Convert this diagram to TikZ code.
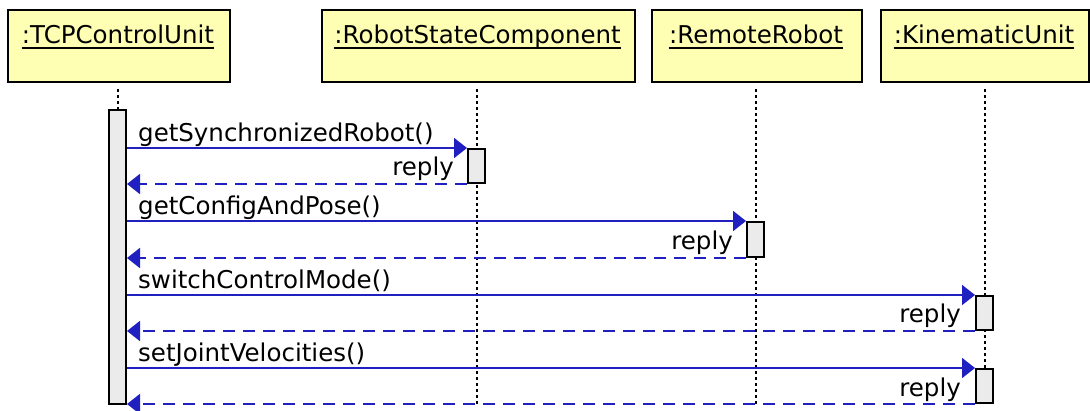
\documentclass[tikz,border=0pt]{standalone}
\usepackage{fontspec}
\setmainfont{DejaVu Sans}
\usetikzlibrary{arrows.meta}
\definecolor{objfill}{HTML}{FFFFB4}
\definecolor{barfill}{HTML}{EBEBEB}
\definecolor{msg}{HTML}{2020C0}
\begin{document}
\begin{tikzpicture}[x=1pt,y=-1pt,
  obj/.style={draw=black, line width=2pt, fill=objfill, inner sep=0pt, anchor=north west, minimum height=72pt},
  title/.style={font=\fontsize{24.5}{29}\selectfont, inner sep=0pt, anchor=base},
  uline/.style={line width=1.8pt},
  bar/.style={draw=black, line width=2pt, fill=barfill, inner sep=0pt, anchor=north, minimum width=17pt},
  life/.style={line width=2.6pt, dash pattern=on 2.6pt off 3.4pt},
  call/.style={draw=msg, line width=2pt, -{Triangle[length=13pt,width=20pt]}},
  ret/.style={call, dash pattern=on 12pt off 8pt},
  lbl/.style={font=\fontsize{24.5}{29}\selectfont, inner sep=0pt}]
\useasboundingbox (0,0) rectangle (1090,410);

% objects
\node[obj, minimum width=222pt] (o1) at (7,9) {};
\node[obj, minimum width=313pt] (o2) at (321,9) {};
\node[obj, minimum width=210pt] (o3) at (651,9) {};
\node[obj, minimum width=208pt] (o4) at (880,9) {};

\node[title] (t1) at (118,43) {:TCPControlUnit\ };
\node[title] (t2) at (477.5,43) {:RobotStateComponent\ };
\node[title] (t3) at (756,43) {:RemoteRobot\ };
\node[title] (t4) at (984,43) {:KinematicUnit};
\foreach \t in {t1,t2,t3,t4}
  \draw[uline] ([yshift=-5pt]\t.base west) -- ([yshift=-5pt]\t.base east);

% lifelines
\coordinate (l1a) at (118,89);  \coordinate (l1b) at (118,109);
\coordinate (l2a) at (477,89);  \coordinate (l2b) at (477,404);
\coordinate (l3a) at (756,89);  \coordinate (l3b) at (756,404);
\coordinate (l4a) at (985,89);  \coordinate (l4b) at (985,404);
\draw[life] (l1a) -- (l1b);
\draw[life] (l2a) -- (l2b);
\draw[life] (l3a) -- (l3b);
\draw[life] (l4a) -- (l4b);

% activation bars
\node[bar, minimum height=294pt] (a1) at (117.5,109) {};
\node[bar, minimum height=34pt] (a2) at (476.5,148) {};
\node[bar, minimum height=35pt] (a3) at (755.5,221) {};
\node[bar, minimum height=34pt] (a4) at (984.5,295) {};
\node[bar, minimum height=34pt] (a5) at (984.5,368) {};

% messages
\draw[call] (a1.east |- a2.north) -- (a2.north west);
\draw[ret] (a2.south west) -- (a1.east |- a2.south);
\draw[call] (a1.east |- a3.north) -- (a3.north west);
\draw[ret] (a3.south west) -- (a1.east |- a3.south);
\draw[call] (a1.east |- a4.north) -- (a4.north west);
\draw[ret] (a4.south west) -- (a1.east |- a4.south);
\draw[call] (a1.east |- a5.north) -- (a5.north west);
\draw[ret] (a5.south west) -- (a1.east |- a5.south);

% labels
\node[lbl, anchor=base west] (m1) at (138,141) {getSynchronizedRobot()};
\node[lbl, anchor=base east] (r1) at (454,175) {reply};
\node[lbl, anchor=base west] (m2) at (138,214) {getConfigAndPose()};
\node[lbl, anchor=base east] (r2) at (733,249) {reply};
\node[lbl, anchor=base west] (m3) at (138,288) {switchControlMode()};
\node[lbl, anchor=base east] (r3) at (961,322) {reply};
\node[lbl, anchor=base west] (m4) at (138,361) {setJointVelocities()};
\node[lbl, anchor=base east] (r4) at (961,396) {reply};
\end{tikzpicture}
\end{document}
